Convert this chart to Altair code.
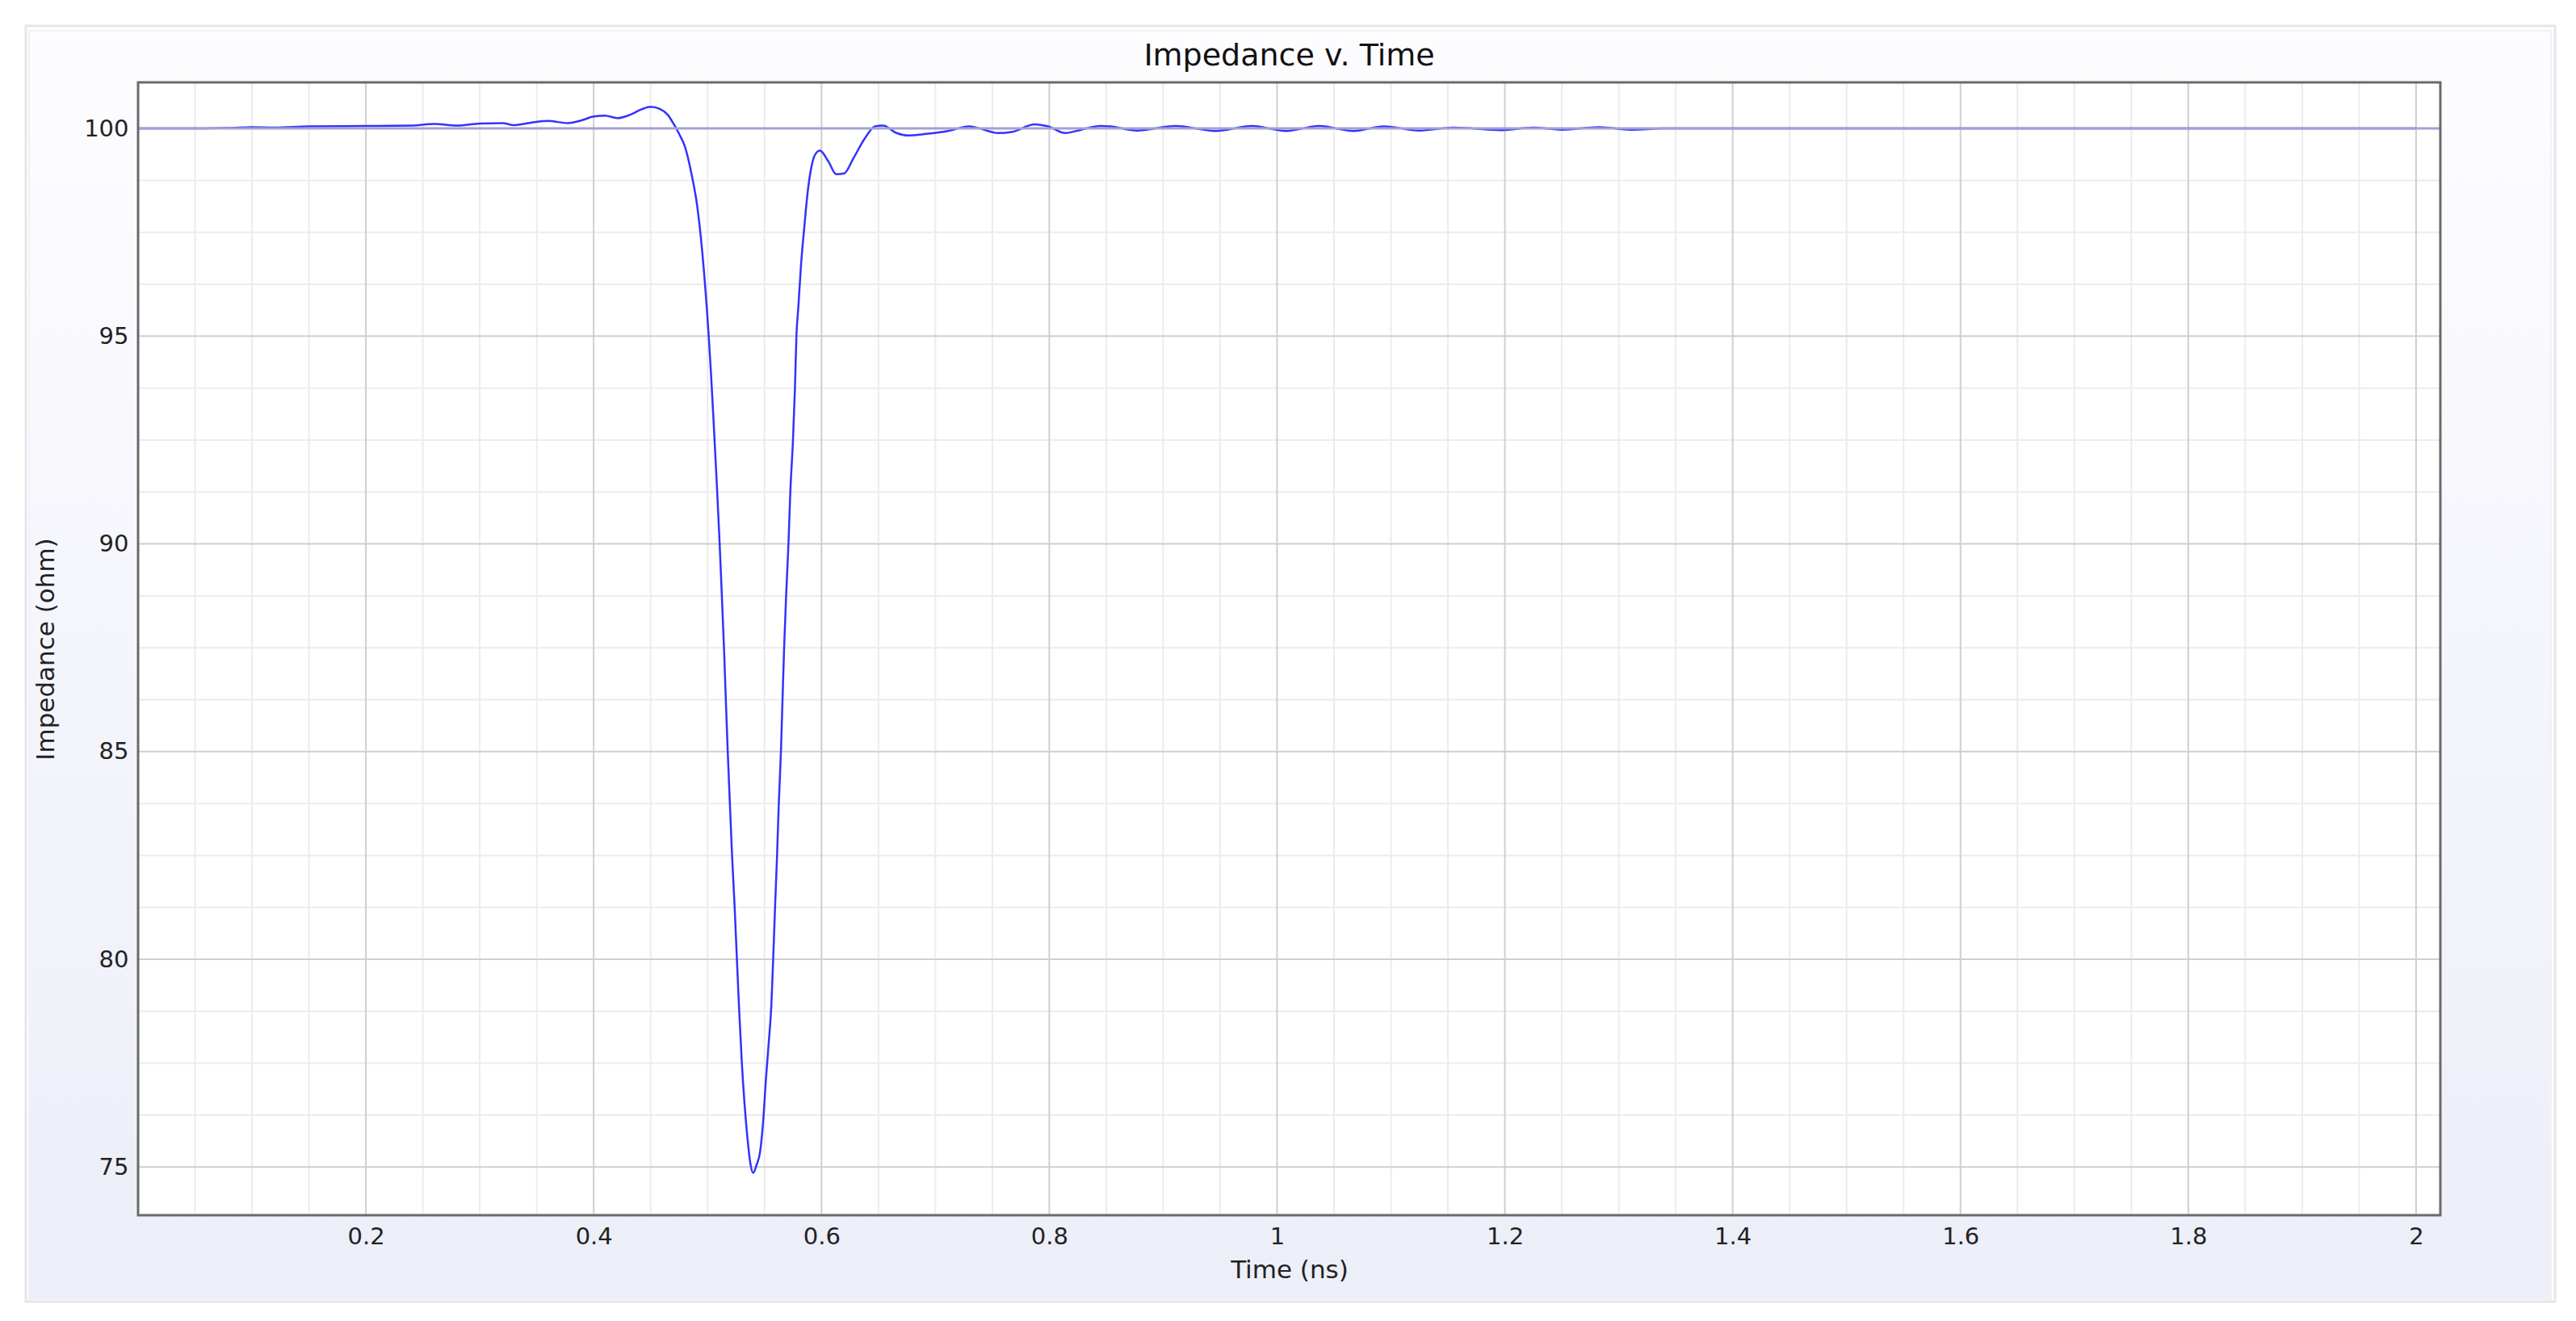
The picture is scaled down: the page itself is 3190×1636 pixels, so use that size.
import altair as alt
import pandas as pd

# ---- data ----
time_ns = [0.0, 0.05, 0.08, 0.1, 0.12, 0.15, 0.2, 0.24, 0.26, 0.28, 0.3, 0.32, 0.33, 0.345,
           0.36, 0.377, 0.39, 0.4, 0.41, 0.421, 0.432, 0.442, 0.45, 0.458, 0.465, 0.47,
           0.475, 0.48, 0.486, 0.491, 0.494, 0.497, 0.499, 0.501, 0.503, 0.505, 0.508,
           0.5106, 0.5125, 0.5144, 0.516, 0.5177, 0.5196, 0.5215, 0.5238, 0.5255, 0.5276,
           0.53, 0.5325, 0.535, 0.5375, 0.54, 0.543, 0.546, 0.5488, 0.5512, 0.5537, 0.556,
           0.5578, 0.5592, 0.561, 0.5625, 0.5644, 0.5658, 0.5672, 0.569, 0.571, 0.5726,
           0.575, 0.5767, 0.578, 0.5797, 0.582, 0.585, 0.588, 0.591, 0.594, 0.5985, 0.606,
           0.613, 0.62, 0.628, 0.638, 0.647, 0.654, 0.666, 0.676, 0.692, 0.711, 0.73,
           0.739, 0.755, 0.768, 0.787, 0.799, 0.814, 0.828, 0.845, 0.853, 0.877, 0.911,
           0.946, 0.978, 1.008, 1.037, 1.067, 1.094, 1.125, 1.155, 1.197, 1.225, 1.25,
           1.283, 1.31, 1.34, 1.5, 2.0]
impedance_ohm = [100.0, 100.0, 100.01, 100.03, 100.02, 100.05, 100.06, 100.07, 100.11, 100.07,
                 100.12, 100.13, 100.08, 100.14, 100.18, 100.13, 100.2, 100.29, 100.31, 100.25,
                 100.33, 100.46, 100.52, 100.47, 100.33, 100.12, 99.87, 99.57, 98.89, 98.11,
                 97.4, 96.5, 95.8, 95.0, 94.1, 93.1, 91.5, 90.0, 88.77, 87.5, 86.26, 85.0,
                 83.73, 82.5, 81.23, 80.16, 78.85, 77.55, 76.5, 75.7, 75.1, 74.86, 75.05, 75.35,
                 76.1, 77.1, 78.0, 78.9, 80.16, 81.23, 82.5, 83.73, 85.0, 86.26, 87.5, 88.77,
                 90.0, 91.22, 92.52, 93.75, 95.0, 95.71, 96.7, 97.65, 98.5, 99.05, 99.35, 99.47,
                 99.21, 98.9, 98.92, 99.28, 99.76, 100.05, 100.07, 99.89, 99.83, 99.87, 99.94,
                 100.05, 100.0, 99.89, 99.92, 100.1, 100.05, 99.89, 99.97, 100.06, 100.05, 99.95,
                 100.06, 99.94, 100.06, 99.94, 100.06, 99.94, 100.05, 99.95, 100.02, 99.96,
                 100.02, 99.97, 100.03, 99.97, 100.0, 100.0, 100.0]
ref_time = [0.0, 2.0213]
ref_impedance = [100.0, 100.0]

x_major = [0.2, 0.4, 0.6, 0.8, 1.0, 1.2, 1.4, 1.6, 1.8, 2.0]
x_minor = [0.05, 0.1, 0.15, 0.25, 0.3, 0.35, 0.45, 0.5, 0.55, 0.65, 0.7, 0.75, 0.85, 0.9,
           0.95, 1.05, 1.1, 1.15, 1.25, 1.3, 1.35, 1.45, 1.5, 1.55, 1.65, 1.7, 1.75, 1.85,
           1.9, 1.95]
y_major = [75, 80, 85, 90, 95, 100]
y_minor = [76.25, 77.5, 78.75, 81.25, 82.5, 83.75, 86.25, 87.5, 88.75, 91.25, 92.5, 93.75,
           96.25, 97.5, 98.75]

chart_title = "Impedance v. Time"
x_title = "Time (ns)"
y_title = "Impedance (ohm)"

# ---- layout ----
W, H = 2851, 1403
X_DOMAIN = [0.0, 2.0213]
Y_DOMAIN = [73.84, 101.11]
FONT = "DejaVu Sans"

xs = alt.Scale(domain=X_DOMAIN, nice=False, zero=False)
ys = alt.Scale(domain=Y_DOMAIN, nice=False, zero=False)
x_axis = alt.Axis(values=x_major, format="~g", labelPadding=12, titlePadding=12, zindex=1,
                  grid=False, domain=False, ticks=False)
y_axis = alt.Axis(values=y_major, format="d", labelPadding=12, titlePadding=30, zindex=1,
                  grid=False, domain=False, ticks=False)

curve = pd.DataFrame({"time": time_ns, "impedance": impedance_ohm})
ref = pd.DataFrame({"time": ref_time, "impedance": ref_impedance})
one = pd.DataFrame({"k": [0]})

panel_frame = alt.Chart(one).mark_rect(
    fill="white", stroke="#e6e6ea", strokeWidth=3
).encode(x=alt.value(-139), x2=alt.value(W + 142), y=alt.value(-70), y2=alt.value(H + 107))

panel_bg = alt.Chart(one).mark_rect(
    fill=alt.Gradient(
        gradient="linear",
        stops=[alt.GradientStop(color="#fdfdff", offset=0),
               alt.GradientStop(color="#eceef8", offset=1)],
        x1=0, x2=0, y1=0, y2=1,
    ),
    stroke="#f0f0f8", strokeWidth=2,
).encode(x=alt.value(-135), x2=alt.value(W + 137), y=alt.value(-64), y2=alt.value(H + 104))

plot_bg = alt.Chart(one).mark_rect(fill="white").encode(
    x=alt.value(0), x2=alt.value(W), y=alt.value(0), y2=alt.value(H)
)

def vrules(vals, color):
    return alt.Chart(pd.DataFrame({"time": vals})).mark_rule(color=color, strokeWidth=2).encode(
        x=alt.X("time:Q", scale=xs, axis=x_axis, title=x_title)
    )

def hrules(vals, color):
    return alt.Chart(pd.DataFrame({"impedance": vals})).mark_rule(color=color, strokeWidth=2).encode(
        y=alt.Y("impedance:Q", scale=ys, axis=y_axis, title=y_title)
    )

minor_c = "#ececec"
major_c = "#cfcfcf"

line = alt.Chart(curve).mark_line(
    color="#3232ff", strokeWidth=2.5, interpolate="monotone"
).encode(
    x=alt.X("time:Q", scale=xs, title=x_title, axis=x_axis),
    y=alt.Y("impedance:Q", scale=ys, title=y_title, axis=y_axis),
)

ref_line = alt.Chart(ref).mark_line(color="#a2a2d2", strokeWidth=3).encode(
    x=alt.X("time:Q", scale=xs, title=x_title, axis=x_axis),
    y=alt.Y("impedance:Q", scale=ys, title=y_title, axis=y_axis),
)

border = alt.Chart(one).mark_rect(
    fillOpacity=0, stroke="#6a6a6a", strokeWidth=3
).encode(x=alt.value(0), x2=alt.value(W), y=alt.value(0), y2=alt.value(H))

title_txt = alt.Chart(one).mark_text(
    text=chart_title, font=FONT, fontSize=38, color="#111", align="center", baseline="alphabetic"
).encode(x=alt.value(W / 2), y=alt.value(-21))

chart = alt.layer(
    panel_frame, panel_bg, plot_bg,
    vrules(x_minor, minor_c), hrules(y_minor, minor_c),
    vrules(x_major, major_c), hrules(y_major, major_c),
    line, ref_line, border, title_txt,
).properties(
    width=W, height=H,
    autosize=alt.AutoSizeParams(type="none"),
    padding={"left": 163, "top": 94, "right": 154, "bottom": 118},
    background="white",
).configure_view(
    stroke=None, fill=None
).configure_axis(
    labelFont=FONT, labelFontSize=29, labelColor="#222",
    titleFont=FONT, titleFontSize=31, titleFontWeight="normal", titleColor="#222",
)

chart.save("out.html", embed_options={"renderer": "svg", "actions": False})
